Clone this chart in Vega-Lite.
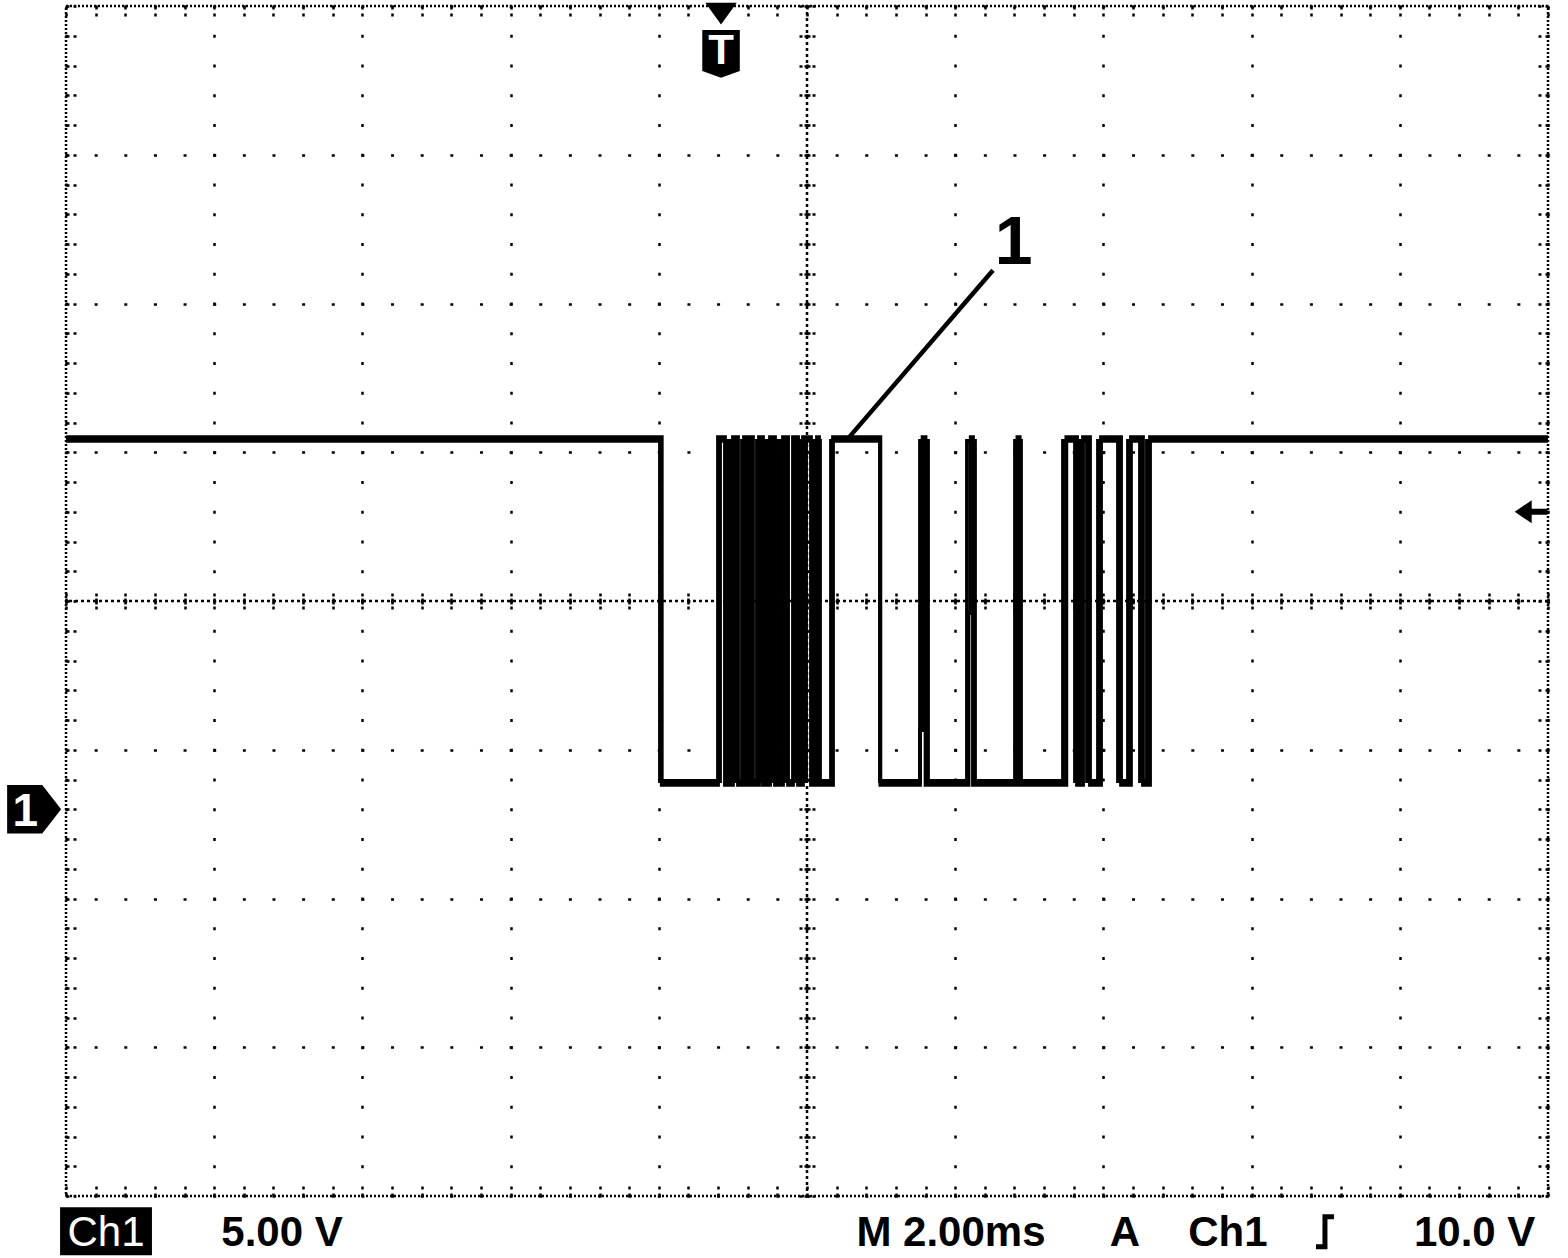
{
  "$schema": "https://vega.github.io/schema/vega-lite/v6.json",
  "width": 1482,
  "height": 1190,
  "autosize": {"type": "none"},
  "padding": {"left": 66, "top": 6, "right": 20, "bottom": 62},
  "background": "white",
  "config": {
    "view": {"stroke": "black", "strokeWidth": 2.5, "strokeDash": [2, 2]},
    "axis": {"domain": false, "labels": false, "grid": false, "ticks": false, "tickColor": "black", "tickWidth": 2.5, "tickOpacity": 1, "gridColor": "black", "gridOpacity": 1}
  },
  "resolve": {"axis": {"x": "independent", "y": "independent"}},
  "datasets": {
    "wave": [
      {"s":"a","i":1,"t":-10,"v":12.38},{"s":"a","i":2,"t":-1.984,"v":12.38},{"s":"a","i":3,"t":-1.984,"v":0.95},{"s":"a","i":4,"t":-1.174,"v":0.95},
      {"s":"a","i":5,"t":-1.174,"v":12.38},{"s":"a","i":6,"t":-1.066,"v":12.38},{"s":"a","i":7,"t":-1.066,"v":0.95},{"s":"a","i":8,"t":-1.026,"v":0.95},
      {"s":"a","i":9,"t":-1.026,"v":12.38},{"s":"a","i":10,"t":-0.958,"v":12.38},{"s":"a","i":11,"t":-0.958,"v":0.95},{"s":"a","i":12,"t":-0.877,"v":0.95},
      {"s":"a","i":13,"t":-0.877,"v":12.38},{"s":"a","i":14,"t":-0.837,"v":12.38},{"s":"a","i":15,"t":-0.837,"v":0.95},{"s":"a","i":16,"t":-0.796,"v":0.95},
      {"s":"a","i":17,"t":-0.796,"v":12.38},{"s":"a","i":18,"t":-0.756,"v":12.38},{"s":"a","i":19,"t":-0.756,"v":0.95},{"s":"a","i":20,"t":-0.675,"v":0.95},
      {"s":"a","i":21,"t":-0.675,"v":12.38},{"s":"a","i":22,"t":-0.634,"v":12.38},{"s":"a","i":23,"t":-0.634,"v":0.95},{"s":"a","i":24,"t":-0.567,"v":0.95},
      {"s":"a","i":25,"t":-0.567,"v":12.38},{"s":"a","i":26,"t":-0.526,"v":12.38},{"s":"a","i":27,"t":-0.526,"v":0.95},{"s":"a","i":28,"t":-0.459,"v":0.95},
      {"s":"a","i":29,"t":-0.459,"v":12.38},{"s":"a","i":30,"t":-0.391,"v":12.38},{"s":"a","i":31,"t":-0.391,"v":0.95},{"s":"a","i":32,"t":-0.351,"v":0.95},
      {"s":"a","i":33,"t":-0.351,"v":12.38},{"s":"a","i":34,"t":-0.283,"v":12.38},{"s":"a","i":35,"t":-0.283,"v":0.95},{"s":"a","i":36,"t":-0.162,"v":0.95},
      {"s":"a","i":37,"t":-0.162,"v":12.38},{"s":"a","i":38,"t":-0.094,"v":12.38},{"s":"a","i":39,"t":-0.094,"v":0.95},{"s":"a","i":40,"t":-0.013,"v":0.95},
      {"s":"a","i":41,"t":-0.013,"v":12.38},{"s":"a","i":42,"t":0.081,"v":12.38},{"s":"a","i":43,"t":0.081,"v":0.95},{"s":"a","i":44,"t":0.121,"v":0.95},
      {"s":"a","i":45,"t":0.121,"v":12.38},{"s":"a","i":46,"t":0.175,"v":12.38},{"s":"a","i":47,"t":0.175,"v":0.95},{"s":"a","i":48,"t":0.324,"v":0.95},
      {"s":"a","i":49,"t":0.324,"v":12.38},{"s":"a","i":50,"t":0.985,"v":12.38},{"s":"a","i":51,"t":0.985,"v":0.95},{"s":"a","i":52,"t":1.525,"v":0.95},
      {"s":"a","i":53,"t":1.525,"v":12.38},{"s":"a","i":54,"t":1.633,"v":12.38},{"s":"a","i":55,"t":1.633,"v":0.95},{"s":"a","i":56,"t":2.159,"v":0.95},
      {"s":"a","i":57,"t":2.159,"v":12.38},{"s":"a","i":58,"t":2.267,"v":12.38},{"s":"a","i":59,"t":2.267,"v":0.95},{"s":"a","i":60,"t":2.807,"v":0.95},
      {"s":"a","i":61,"t":2.807,"v":12.38},{"s":"a","i":62,"t":2.888,"v":12.38},{"s":"a","i":63,"t":2.888,"v":0.95},{"s":"a","i":64,"t":3.455,"v":0.95},
      {"s":"a","i":65,"t":3.455,"v":12.38},{"s":"a","i":66,"t":3.617,"v":12.38},{"s":"a","i":67,"t":3.617,"v":0.95},{"s":"a","i":68,"t":3.684,"v":0.95},
      {"s":"a","i":69,"t":3.684,"v":12.38},{"s":"a","i":70,"t":3.779,"v":12.38},{"s":"a","i":71,"t":3.779,"v":0.95},{"s":"a","i":72,"t":3.927,"v":0.95},
      {"s":"a","i":73,"t":3.927,"v":12.38},{"s":"a","i":74,"t":4.197,"v":12.38},{"s":"a","i":75,"t":4.197,"v":0.95},{"s":"a","i":76,"t":4.332,"v":0.95},
      {"s":"a","i":77,"t":4.332,"v":12.38},{"s":"a","i":78,"t":4.494,"v":12.38},{"s":"a","i":79,"t":4.494,"v":0.95},{"s":"a","i":80,"t":4.588,"v":0.95},
      {"s":"a","i":81,"t":4.588,"v":12.38},{"s":"a","i":82,"t":10,"v":12.38},
      {"s":"b","i":1,"t":-10,"v":12.51},{"s":"b","i":2,"t":-1.96,"v":12.51},{"s":"b","i":3,"t":-1.96,"v":0.82},{"s":"b","i":4,"t":-1.201,"v":0.82},
      {"s":"b","i":5,"t":-1.201,"v":12.51},{"s":"b","i":6,"t":-1.107,"v":12.51},{"s":"b","i":7,"t":-1.107,"v":0.82},{"s":"b","i":8,"t":-0.999,"v":0.82},
      {"s":"b","i":9,"t":-0.999,"v":12.51},{"s":"b","i":10,"t":-0.931,"v":12.51},{"s":"b","i":11,"t":-0.931,"v":0.82},{"s":"b","i":12,"t":-0.85,"v":0.82},
      {"s":"b","i":13,"t":-0.85,"v":12.51},{"s":"b","i":14,"t":-0.81,"v":12.51},{"s":"b","i":15,"t":-0.81,"v":0.82},{"s":"b","i":16,"t":-0.769,"v":0.82},
      {"s":"b","i":17,"t":-0.769,"v":12.51},{"s":"b","i":18,"t":-0.729,"v":12.51},{"s":"b","i":19,"t":-0.729,"v":0.82},{"s":"b","i":20,"t":-0.648,"v":0.82},
      {"s":"b","i":21,"t":-0.648,"v":12.51},{"s":"b","i":22,"t":-0.594,"v":12.51},{"s":"b","i":23,"t":-0.594,"v":0.82},{"s":"b","i":24,"t":-0.499,"v":0.82},
      {"s":"b","i":25,"t":-0.499,"v":12.51},{"s":"b","i":26,"t":-0.432,"v":12.51},{"s":"b","i":27,"t":-0.432,"v":0.82},{"s":"b","i":28,"t":-0.324,"v":0.82},
      {"s":"b","i":29,"t":-0.324,"v":12.51},{"s":"b","i":30,"t":-0.256,"v":12.51},{"s":"b","i":31,"t":-0.256,"v":0.82},{"s":"b","i":32,"t":-0.189,"v":0.82},
      {"s":"b","i":33,"t":-0.189,"v":12.51},{"s":"b","i":34,"t":-0.121,"v":12.51},{"s":"b","i":35,"t":-0.121,"v":0.82},{"s":"b","i":36,"t":-0.054,"v":0.82},
      {"s":"b","i":37,"t":-0.054,"v":12.51},{"s":"b","i":38,"t":0.054,"v":12.51},{"s":"b","i":39,"t":0.054,"v":0.82},{"s":"b","i":40,"t":0.135,"v":0.82},
      {"s":"b","i":41,"t":0.135,"v":12.51},{"s":"b","i":42,"t":0.162,"v":12.51},{"s":"b","i":43,"t":0.162,"v":0.82},{"s":"b","i":44,"t":0.351,"v":0.82},
      {"s":"b","i":45,"t":0.351,"v":12.51},{"s":"b","i":46,"t":0.99,"v":12.51},{"s":"b","i":47,"t":0.99,"v":0.82},{"s":"b","i":48,"t":1.525,"v":0.82},
      {"s":"b","i":49,"t":1.525,"v":2.66},{"s":"b","i":50,"t":1.56,"v":2.66},{"s":"b","i":51,"t":1.56,"v":12.51},{"s":"b","i":52,"t":1.6,"v":12.51},
      {"s":"b","i":53,"t":1.6,"v":0.82},{"s":"b","i":54,"t":2.18,"v":0.82},{"s":"b","i":55,"t":2.18,"v":6.59},{"s":"b","i":56,"t":2.21,"v":6.59},
      {"s":"b","i":57,"t":2.21,"v":12.51},{"s":"b","i":58,"t":2.24,"v":12.51},{"s":"b","i":59,"t":2.24,"v":0.82},{"s":"b","i":60,"t":2.82,"v":0.82},
      {"s":"b","i":61,"t":2.82,"v":10.1},{"s":"b","i":62,"t":2.84,"v":10.1},{"s":"b","i":63,"t":2.84,"v":12.51},{"s":"b","i":64,"t":2.87,"v":12.51},
      {"s":"b","i":65,"t":2.87,"v":0.82},{"s":"b","i":66,"t":3.5,"v":0.82},{"s":"b","i":67,"t":3.5,"v":12.51},{"s":"b","i":68,"t":3.644,"v":12.51},
      {"s":"b","i":69,"t":3.644,"v":0.82},{"s":"b","i":70,"t":3.725,"v":0.82},{"s":"b","i":71,"t":3.725,"v":12.51},{"s":"b","i":72,"t":3.819,"v":12.51},
      {"s":"b","i":73,"t":3.819,"v":0.82},{"s":"b","i":74,"t":3.968,"v":0.82},{"s":"b","i":75,"t":3.968,"v":12.51},{"s":"b","i":76,"t":4.238,"v":12.51},
      {"s":"b","i":77,"t":4.238,"v":0.82},{"s":"b","i":78,"t":4.372,"v":0.82},{"s":"b","i":79,"t":4.372,"v":12.51},{"s":"b","i":80,"t":4.534,"v":12.51},
      {"s":"b","i":81,"t":4.534,"v":0.82},{"s":"b","i":82,"t":4.629,"v":0.82},{"s":"b","i":83,"t":4.629,"v":12.51},{"s":"b","i":84,"t":10,"v":12.51}
    ]
  },
  "layer": [
    {
      "data": {"name": "wave"},
      "mark": {"type": "line", "color": "black", "strokeWidth": 3.8, "strokeJoin": "miter"},
      "encoding": {
        "x": {"field": "t", "type": "quantitative", "scale": {"domain": [-10, 10], "nice": false, "zero": false},
              "axis": {"orient": "bottom", "title": null, "values": [-10,-8,-6,-4,-2,0,2,4,6,8,10], "grid": true, "gridDash": [3, 26.75], "gridDashOffset": 1.5, "gridWidth": 2.5}},
        "y": {"field": "v", "type": "quantitative", "scale": {"domain": [-13, 27], "nice": false, "zero": false},
              "axis": {"orient": "left", "title": null, "values": [-13,-8,-3,2,7,12,17,22,27], "grid": true, "gridDash": [3, 26.64], "gridDashOffset": 1.5, "gridWidth": 2.5}},
        "detail": {"field": "s"},
        "order": {"field": "i"}
      }
    },
    {
      "data": {"values": [{}]},
      "mark": {"type": "rule", "color": "black", "strokeWidth": 2.5, "strokeDash": [3, 3]},
      "encoding": {
        "x": {"datum": 0, "type": "quantitative", "scale": {"domain": [-10, 10], "nice": false, "zero": false},
              "axis": {"orient": "bottom", "title": null, "ticks": true, "tickSize": -10, "tickDash": [3, 4],
                       "values": [-10,-9.6,-9.2,-8.8,-8.4,-8,-7.6,-7.2,-6.8,-6.4,-6,-5.6,-5.2,-4.8,-4.4,-4,-3.6,-3.2,-2.8,-2.4,-2,-1.6,-1.2,-0.8,-0.4,0,0.4,0.8,1.2,1.6,2,2.4,2.8,3.2,3.6,4,4.4,4.8,5.2,5.6,6,6.4,6.8,7.2,7.6,8,8.4,8.8,9.2,9.6,10]}}
      }
    },
    {
      "data": {"values": [{}]},
      "mark": {"type": "rule", "color": "black", "strokeWidth": 2.5, "strokeDash": [3, 3]},
      "encoding": {
        "y": {"datum": 7, "type": "quantitative", "scale": {"domain": [-13, 27], "nice": false, "zero": false},
              "axis": {"orient": "left", "title": null, "ticks": true, "tickSize": -10, "tickDash": [3, 4],
                       "values": [-13,-12,-11,-10,-9,-8,-7,-6,-5,-4,-3,-2,-1,0,1,2,3,4,5,6,7,8,9,10,11,12,13,14,15,16,17,18,19,20,21,22,23,24,25,26,27]}}
      }
    },
    {
      "data": {"values": [{"t": -10.43, "v": 0}]},
      "mark": {"type": "point", "filled": true, "color": "black", "opacity": 1, "size": 2916, "shape": "M-1,-0.9L0.3,-0.9L1,0L0.3,0.9L-1,0.9Z"},
      "encoding": {
        "x": {"field": "t", "type": "quantitative", "scale": {"domain": [-10, 10], "nice": false, "zero": false},
              "axis": {"orient": "top", "title": null, "ticks": true, "tickSize": -10, "tickDash": [3, 4],
                       "values": [-10,-9.6,-9.2,-8.8,-8.4,-8,-7.6,-7.2,-6.8,-6.4,-6,-5.6,-5.2,-4.8,-4.4,-4,-3.6,-3.2,-2.8,-2.4,-2,-1.6,-1.2,-0.8,-0.4,0,0.4,0.8,1.2,1.6,2,2.4,2.8,3.2,3.6,4,4.4,4.8,5.2,5.6,6,6.4,6.8,7.2,7.6,8,8.4,8.8,9.2,9.6,10]}},
        "y": {"field": "v", "type": "quantitative", "scale": {"domain": [-13, 27], "nice": false, "zero": false},
              "axis": {"orient": "right", "title": null, "ticks": true, "tickSize": -10, "tickDash": [3, 4],
                       "values": [-13,-12,-11,-10,-9,-8,-7,-6,-5,-4,-3,-2,-1,0,1,2,3,4,5,6,7,8,9,10,11,12,13,14,15,16,17,18,19,20,21,22,23,24,25,26,27]}}
      }
    },
    {
      "data": {"values": [{"label": "1", "t": -10.55, "v": -0.1}]},
      "mark": {"type": "text", "color": "white", "font": "Liberation Sans", "fontWeight": "bold", "fontSize": 46, "align": "center", "baseline": "middle"},
      "encoding": {
        "x": {"field": "t", "type": "quantitative", "scale": {"domain": [-10, 10], "nice": false, "zero": false}, "axis": null},
        "y": {"field": "v", "type": "quantitative", "scale": {"domain": [-13, 27], "nice": false, "zero": false}, "axis": null},
        "text": {"field": "label"}
      }
    },
    {
      "data": {"values": [{"t": -1.16, "v": 25.85}]},
      "mark": {"type": "point", "filled": true, "color": "black", "opacity": 1, "size": 5625, "shape": "M-0.42,-1L0.42,-1L0,-0.42Z M-0.5,-0.27L0.5,-0.27L0.5,0.82L0,1L-0.5,0.82Z"},
      "encoding": {
        "x": {"field": "t", "type": "quantitative", "scale": {"domain": [-10, 10], "nice": false, "zero": false},
              "axis": {"orient": "bottom", "offset": -595, "title": null, "ticks": true, "tickSize": 10, "tickDash": [3, 2],
                       "values": [-10,-9.6,-9.2,-8.8,-8.4,-8,-7.6,-7.2,-6.8,-6.4,-6,-5.6,-5.2,-4.8,-4.4,-4,-3.6,-3.2,-2.8,-2.4,-2,-1.6,-1.2,-0.8,-0.4,0,0.4,0.8,1.2,1.6,2,2.4,2.8,3.2,3.6,4,4.4,4.8,5.2,5.6,6,6.4,6.8,7.2,7.6,8,8.4,8.8,9.2,9.6,10]}},
        "y": {"field": "v", "type": "quantitative", "scale": {"domain": [-13, 27], "nice": false, "zero": false},
              "axis": {"orient": "left", "offset": -741, "title": null, "ticks": true, "tickSize": 10, "tickDash": [3, 2],
                       "values": [-13,-12,-11,-10,-9,-8,-7,-6,-5,-4,-3,-2,-1,0,1,2,3,4,5,6,7,8,9,10,11,12,13,14,15,16,17,18,19,20,21,22,23,24,25,26,27]}}
      }
    },
    {
      "data": {"values": [{"label": "T", "t": -1.16, "v": 25.5}]},
      "mark": {"type": "text", "color": "white", "font": "Liberation Sans", "fontWeight": "bold", "fontSize": 42, "align": "center", "baseline": "middle"},
      "encoding": {
        "x": {"field": "t", "type": "quantitative", "scale": {"domain": [-10, 10], "nice": false, "zero": false}, "axis": null},
        "y": {"field": "v", "type": "quantitative", "scale": {"domain": [-13, 27], "nice": false, "zero": false}, "axis": null},
        "text": {"field": "label"}
      }
    },
    {
      "data": {"values": [{"t": 9.78, "v": 10}]},
      "mark": {"type": "point", "filled": true, "color": "black", "opacity": 1, "size": 1600, "shape": "M-0.85,0L0,-0.58L0,-0.15L0.8,-0.15L0.8,0.15L0,0.15L0,0.58Z"},
      "encoding": {
        "x": {"field": "t", "type": "quantitative", "scale": {"domain": [-10, 10], "nice": false, "zero": false},
              "axis": {"orient": "top", "offset": -595, "title": null, "ticks": true, "tickSize": 10, "tickDash": [3, 2],
                       "values": [-10,-9.6,-9.2,-8.8,-8.4,-8,-7.6,-7.2,-6.8,-6.4,-6,-5.6,-5.2,-4.8,-4.4,-4,-3.6,-3.2,-2.8,-2.4,-2,-1.6,-1.2,-0.8,-0.4,0,0.4,0.8,1.2,1.6,2,2.4,2.8,3.2,3.6,4,4.4,4.8,5.2,5.6,6,6.4,6.8,7.2,7.6,8,8.4,8.8,9.2,9.6,10]}},
        "y": {"field": "v", "type": "quantitative", "scale": {"domain": [-13, 27], "nice": false, "zero": false},
              "axis": {"orient": "right", "offset": -741, "title": null, "ticks": true, "tickSize": 10, "tickDash": [3, 2],
                       "values": [-13,-12,-11,-10,-9,-8,-7,-6,-5,-4,-3,-2,-1,0,1,2,3,4,5,6,7,8,9,10,11,12,13,14,15,16,17,18,19,20,21,22,23,24,25,26,27]}}
      }
    },
    {
      "data": {"values": [{"t": 0.567, "v": 12.5, "t2": 2.51, "v2": 18.12}]},
      "mark": {"type": "rule", "color": "black", "strokeWidth": 4.5},
      "encoding": {
        "x": {"field": "t", "type": "quantitative", "scale": {"domain": [-10, 10], "nice": false, "zero": false}, "axis": null},
        "y": {"field": "v", "type": "quantitative", "scale": {"domain": [-13, 27], "nice": false, "zero": false}, "axis": null},
        "x2": {"field": "t2"},
        "y2": {"field": "v2"}
      }
    },
    {
      "data": {"values": [{"label": "1", "t": 2.79, "v": 19.0}]},
      "mark": {"type": "text", "color": "black", "font": "Liberation Sans", "fontWeight": "bold", "fontSize": 68, "align": "center", "baseline": "middle"},
      "encoding": {
        "x": {"field": "t", "type": "quantitative", "scale": {"domain": [-10, 10], "nice": false, "zero": false}, "axis": null},
        "y": {"field": "v", "type": "quantitative", "scale": {"domain": [-13, 27], "nice": false, "zero": false}, "axis": null},
        "text": {"field": "label"}
      }
    },
    {
      "data": {"values": [{"t": -10.08, "t2": -8.84, "v": -13.38, "v2": -14.99}]},
      "mark": {"type": "rect", "color": "black", "opacity": 1},
      "encoding": {
        "x": {"field": "t", "type": "quantitative", "scale": {"domain": [-10, 10], "nice": false, "zero": false}, "axis": null},
        "y": {"field": "v", "type": "quantitative", "scale": {"domain": [-13, 27], "nice": false, "zero": false}, "axis": null},
        "x2": {"field": "t2"},
        "y2": {"field": "v2"}
      }
    },
    {
      "data": {"values": [{"label": "Ch1", "t": -9.46, "v": -14.25}]},
      "mark": {"type": "text", "color": "white", "font": "Liberation Sans", "fontSize": 42, "align": "center", "baseline": "middle"},
      "encoding": {
        "x": {"field": "t", "type": "quantitative", "scale": {"domain": [-10, 10], "nice": false, "zero": false}, "axis": null},
        "y": {"field": "v", "type": "quantitative", "scale": {"domain": [-13, 27], "nice": false, "zero": false}, "axis": null},
        "text": {"field": "label"}
      }
    },
    {
      "data": {"values": [
        {"label": "5.00 V", "t": -7.085, "v": -14.25},
        {"label": "M 2.00ms", "t": 1.943, "v": -14.25},
        {"label": "A", "t": 4.29, "v": -14.25},
        {"label": "Ch1", "t": 5.68, "v": -14.25},
        {"label": "10.0 V", "t": 9.01, "v": -14.25}
      ]},
      "mark": {"type": "text", "color": "black", "font": "Liberation Sans", "fontWeight": "bold", "fontSize": 42, "align": "center", "baseline": "middle"},
      "encoding": {
        "x": {"field": "t", "type": "quantitative", "scale": {"domain": [-10, 10], "nice": false, "zero": false}, "axis": null},
        "y": {"field": "v", "type": "quantitative", "scale": {"domain": [-13, 27], "nice": false, "zero": false}, "axis": null},
        "text": {"field": "label"}
      }
    },
    {
      "data": {"values": [{"t": 6.99, "v": -14.2}]},
      "mark": {"type": "point", "filled": false, "color": "black", "opacity": 1, "strokeWidth": 5, "size": 900, "shape": "M-0.6,1L0,1L0,-1L0.6,-1"},
      "encoding": {
        "x": {"field": "t", "type": "quantitative", "scale": {"domain": [-10, 10], "nice": false, "zero": false}, "axis": null},
        "y": {"field": "v", "type": "quantitative", "scale": {"domain": [-13, 27], "nice": false, "zero": false}, "axis": null}
      }
    }
  ]
}
